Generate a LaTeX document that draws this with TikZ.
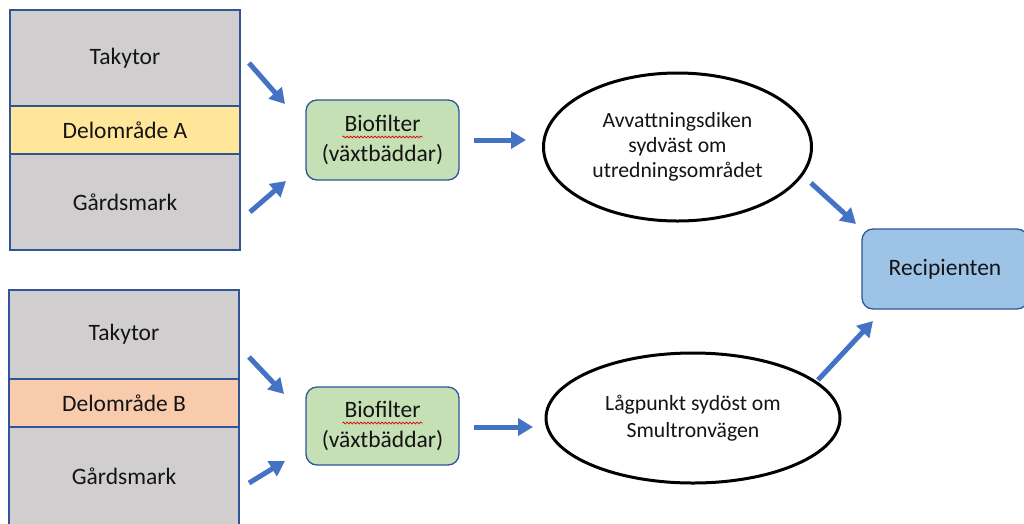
\documentclass[tikz,border=0pt]{standalone}
\usepackage{fontspec}
\setmainfont{Carlito}
\usetikzlibrary{arrows.meta,shapes.geometric,calc,decorations.pathmorphing}
\definecolor{cellgray}{RGB}{208,206,206}
\definecolor{cellyellow}{RGB}{255,230,153}
\definecolor{cellpeach}{RGB}{248,203,173}
\definecolor{boxgreen}{RGB}{197,224,180}
\definecolor{boxblue}{RGB}{157,195,230}
\definecolor{edgeblue}{RGB}{47,85,151}
\definecolor{arrowblue}{RGB}{68,114,196}
\definecolor{txt}{RGB}{20,20,20}
\tikzset{
  cell/.style={draw=edgeblue, line width=1.3pt, minimum width=230pt, inner sep=0pt, text=txt,
    font=\fontsize{23.5}{28}\selectfont},
  rbox/.style={draw=edgeblue, line width=1.3pt, rounded corners=11pt, minimum width=153pt,
    minimum height=80pt, align=center, text=txt, font=\fontsize{23.5}{30}\selectfont},
  oval/.style={ellipse, draw=black, line width=3pt, inner sep=0pt, align=center, text=txt,
    font=\fontsize{21.7}{25}\selectfont},
  flow/.style={draw=arrowblue, line width=5pt, -{Triangle[length=15pt,width=17pt]}},
  squig/.style={draw=red!85!black, line width=0.7pt, decorate,
    decoration={snake, amplitude=0.9pt, segment length=3.5pt}}
}
\begin{document}
\begin{tikzpicture}[x=1pt,y=-1pt]
\clip (0,0) rectangle (1024,523);
\fill[white] (0,0) rectangle (1024,523);
% stack A
\node[cell, fill=cellgray, minimum height=96pt] (tA) at (125,58) {Takytor};
\node[cell, fill=cellyellow, minimum height=48pt] (dA) at (125,130) {Delområde A};
\node[cell, fill=cellgray, minimum height=96pt] (gA) at (125,202) {Gårdsmark};
% stack B
\node[cell, fill=cellgray, minimum height=89pt] (tB) at (124,334.5) {Takytor};
\node[cell, fill=cellpeach, minimum height=48pt] (dB) at (124,403) {Delområde B};
\node[cell, fill=cellgray, minimum height=98pt] (gB) at (124,476) {Gårdsmark};
% biofilters
\node[rbox, fill=boxgreen] (bfA) at (382.5,140) {Biofilter\\(växtbäddar)};
\node[rbox, fill=boxgreen, minimum height=78pt] (bfB) at (382.5,426) {Biofilter\\(växtbäddar)};
\draw[squig] ($(bfA.center)+(-40,-3)$) -- ($(bfA.center)+(40,-3)$);
\draw[squig] ($(bfB.center)+(-40,-3)$) -- ($(bfB.center)+(40,-3)$);
% ellipses
\node[oval, minimum width=268pt, minimum height=148pt] (eA) at (677.5,147) {Avvattningsdiken\\sydväst om\\utredningsområdet};
\node[oval, minimum width=294pt, minimum height=130pt, font=\fontsize{21.7}{27}\selectfont] (eB) at (693,418) {Lågpunkt sydöst om\\Smultronvägen};
% recipient
\node[rbox, fill=boxblue, minimum width=166pt, minimum height=80pt] (rec) at (945,269) {Recipienten};
% arrow anchors
\coordinate (a1s) at (249,63);  \coordinate (a1e) at (285,104);
\coordinate (a2s) at (250,212); \coordinate (a2e) at (286,181);
\coordinate (a3s) at (474,140); \coordinate (a3e) at (526,140);
\coordinate (a4s) at (811,183); \coordinate (a4e) at (856,224);
\coordinate (b1s) at (249,357); \coordinate (b1e) at (284,394);
\coordinate (b2s) at (249,483); \coordinate (b2e) at (285,461);
\coordinate (b3s) at (474,427); \coordinate (b3e) at (533,427);
\coordinate (b4s) at (818,380); \coordinate (b4e) at (873,321);
\draw[flow] (a1s) -- (a1e);
\draw[flow] (a2s) -- (a2e);
\draw[flow] (a3s) -- (a3e);
\draw[flow] (a4s) -- (a4e);
\draw[flow] (b1s) -- (b1e);
\draw[flow] (b2s) -- (b2e);
\draw[flow] (b3s) -- (b3e);
\draw[flow] (b4s) -- (b4e);
\end{tikzpicture}
\end{document}
